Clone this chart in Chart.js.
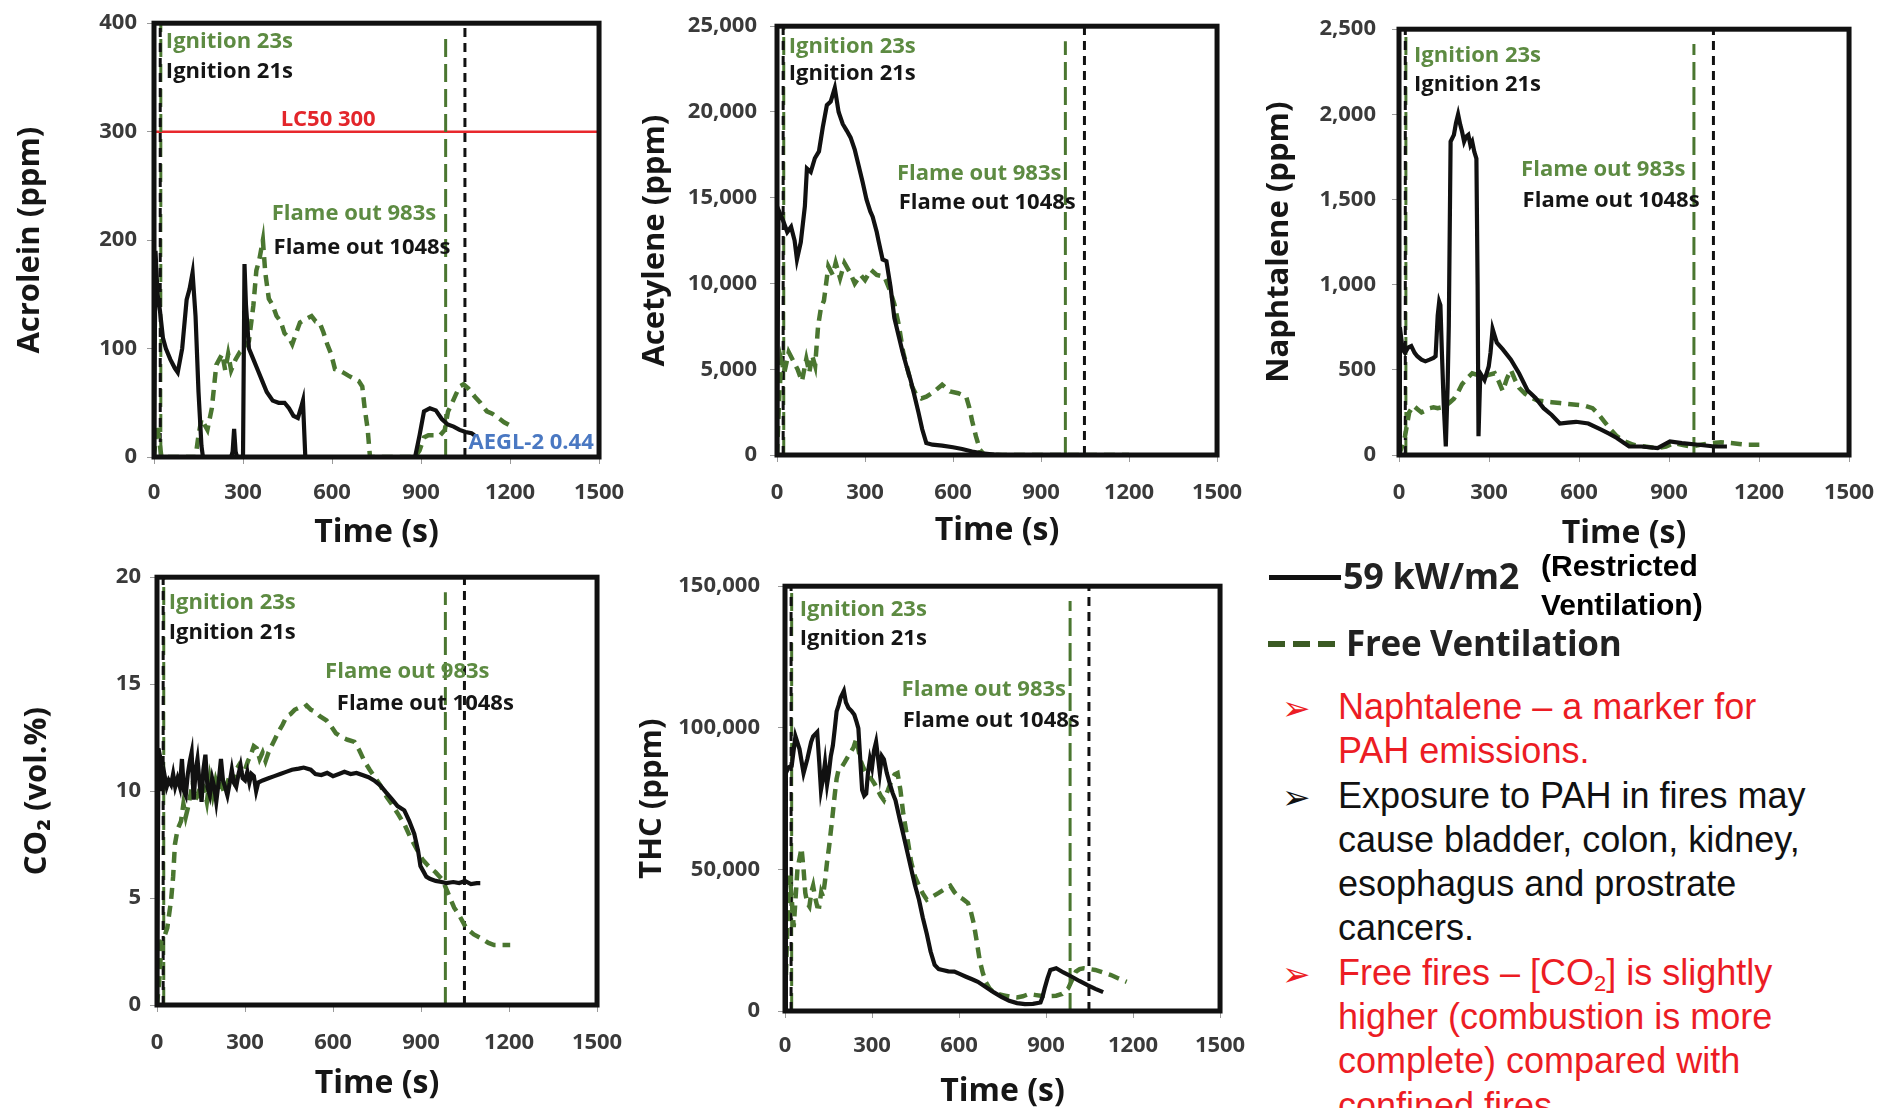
<!DOCTYPE html>
<html>
<head>
<meta charset="utf-8">
<script src="https://cdn.jsdelivr.net/npm/chart.js@4.4.1/dist/chart.umd.min.js"></script>
<style>
  html, body { margin: 0; padding: 0; background: #fff; }
  body { width: 1892px; height: 1108px; position: relative; overflow: hidden; }
  canvas { position: absolute; }
  .lg { position: absolute; white-space: nowrap; }
  #bullets { position: absolute; left: 1338px; top: 685px; font: 36px/44.3px 'Liberation Sans', Arial, sans-serif; white-space: nowrap; }
  #bullets div { position: relative; }
  #bullets .arr { position: absolute; left: -56px; top: 1px; font-size: 34px; }
  #bullets sub { font-size: 22px; line-height: 0; vertical-align: -6px; }
  .red { color: #ec1c24; }
  .blk { color: #111; }
</style>
</head>
<body>
<canvas id="acroleinChart"></canvas>
<canvas id="acetyleneChart"></canvas>
<canvas id="naphtaleneChart"></canvas>
<canvas id="co2Chart"></canvas>
<canvas id="thcChart"></canvas>

<!-- legend -->
<div style="position:absolute;left:1269px;top:575px;width:72px;height:5px;background:#111"></div>
<div class="lg" style="left:1343px;top:554px;font:bold 36px/44px 'Open Sans';color:#222;letter-spacing:-0.3px">59 kW/m2</div>
<div class="lg" style="left:1541px;top:546px;font:bold 30px/39px 'Liberation Sans';color:#000">(Restricted<br>Ventilation)</div>
<div style="position:absolute;left:1268px;top:641px;width:68px;height:6px;background:repeating-linear-gradient(90deg,#3b5a23 0 17px,transparent 17px 25px)"></div>
<div class="lg" style="left:1346px;top:621px;font:bold 35px/44px 'Open Sans';color:#222;letter-spacing:-0.3px">Free Ventilation</div>

<div id="bullets">
  <div class="red"><span class="arr">➢</span>Naphtalene – a marker for<br>PAH emissions.</div>
  <div class="blk"><span class="arr">➢</span>Exposure to PAH in fires may<br>cause bladder, colon, kidney,<br>esophagus and prostrate<br>cancers.</div>
  <div class="red"><span class="arr">➢</span>Free fires – [CO<sub>2</sub>] is slightly<br>higher (combustion is more<br>complete) compared with<br>confined fires.</div>
</div>

<script>
// event times (s)
var ignitionFree = 23, ignitionRestricted = 21;
var flameOutFree = 983, flameOutRestricted = 1048;
var lc50Acrolein = 300, aegl2Acrolein = 0.44;

var timeTicks = [0, 300, 600, 900, 1200, 1500];
var acroleinTicks = [0, 100, 200, 300, 400];
var acetyleneTicks = [0, 5000, 10000, 15000, 20000, 25000];
var naphtaleneTicks = [0, 500, 1000, 1500, 2000, 2500];
var co2Ticks = [0, 5, 10, 15, 20];
var thcTicks = [0, 50000, 100000, 150000];

// [time s, value]
var acroleinRestricted = [[0,0],[5,190],[12,150],[20,135],[30,110],[40,100],[55,90],[70,82],[80,78],[95,100],[110,145],[120,155],[130,170],[140,130],[150,60],[160,10],[165,0],
  [260,0],[265,5],[270,26],[275,5],[280,0],[300,0],[305,178],[310,140],[320,100],[335,90],[350,80],[365,70],[380,60],[400,52],[420,50],[440,50],[455,45],[470,38],[485,36],[495,45],[502,52],[510,0],
  [880,0],[895,20],[910,42],[930,45],[950,43],[970,35],[990,30],[1010,28],[1030,25],[1050,23],[1070,22],[1080,20]];
var acroleinFree = [[0,0],[10,30],[18,15],[25,0],[140,0],[150,20],[160,35],[170,30],[180,25],[195,45],[210,85],[220,90],[230,95],[240,80],[250,95],[260,80],[275,90],[290,97],[305,100],[320,107],[335,140],[345,172],[355,182],[367,200],[375,170],[387,146],[400,140],[413,130],[427,125],[440,114],[455,110],[466,104],[480,115],[492,124],[510,127],[531,130],[545,125],[558,124],[571,115],[584,104],[597,95],[610,81],[623,80],[637,78],[655,75],[676,72],[690,70],[702,65],[710,45],[720,26],[728,0],
  [880,0],[895,6],[910,18],[925,20],[945,20],[964,20],[980,25],[991,42],[1005,50],[1018,58],[1030,65],[1043,67],[1060,63],[1083,55],[1100,50],[1122,42],[1140,40],[1161,36],[1180,32],[1200,29]];

var acetyleneRestricted = [[0,0],[5,14300],[20,13700],[35,13000],[48,13300],[60,12500],[68,11400],[81,12400],[95,14500],[102,16700],[115,16500],[129,17300],[143,17700],[156,19100],[170,20400],[183,20600],[197,21400],[210,20000],[224,19300],[238,18900],[251,18500],[265,17800],[278,16900],[292,15900],[305,14900],[318,14200],[326,13900],[340,13000],[346,12500],[360,11400],[373,11300],[387,9800],[400,8000],[414,7000],[428,6000],[441,5200],[455,4400],[468,3500],[482,2500],[495,1500],[509,700],[530,600],[563,550],[600,450],[631,350],[665,200],[699,100],[740,30],[767,0],[900,0],[1100,0]];
var acetyleneFree = [[0,0],[8,3500],[15,5500],[25,4800],[40,6000],[55,5500],[70,5000],[85,4300],[100,5600],[110,4800],[120,5800],[130,5200],[140,7500],[150,8600],[160,9000],[175,11000],[190,10500],[200,11200],[215,10300],[230,11200],[250,10600],[265,10000],[285,10500],[300,10200],[320,10800],[340,10500],[366,10400],[385,9600],[400,8800],[415,7600],[430,6000],[448,4800],[460,4000],[475,3500],[492,3300],[509,3400],[536,3700],[563,4100],[590,3700],[618,3600],[645,3400],[655,2800],[665,2000],[678,1100],[692,300],[705,50],[720,0],[800,0],[1000,0],[1200,0]];

var naphtaleneRestricted = [[0,0],[3,750],[12,620],[20,600],[30,630],[41,640],[52,600],[61,580],[75,560],[88,550],[102,560],[115,570],[122,580],[129,820],[134,900],[138,880],[143,600],[149,300],[156,50],[162,400],[166,760],[172,1840],[183,1880],[190,1950],[197,2000],[204,1940],[210,1900],[217,1840],[224,1870],[231,1880],[238,1820],[244,1840],[251,1780],[258,1740],[262,1000],[265,110],[268,300],[271,480],[285,440],[299,520],[305,600],[312,740],[319,700],[326,660],[346,620],[373,560],[400,480],[428,380],[455,335],[482,275],[509,235],[536,185],[563,190],[590,195],[631,185],[672,150],[700,125],[726,100],[767,50],[808,50],[862,40],[903,80],[943,70],[998,60],[1052,50],[1093,50]];
var naphtaleneFree = [[0,0],[10,50],[20,110],[34,250],[48,290],[61,270],[75,250],[88,260],[102,275],[115,280],[129,275],[143,280],[156,290],[170,310],[183,330],[197,370],[210,415],[227,450],[244,480],[261,470],[278,460],[299,470],[319,480],[333,430],[346,375],[360,450],[373,500],[387,440],[400,395],[420,360],[441,335],[462,320],[482,315],[509,310],[536,305],[563,300],[590,295],[618,290],[645,275],[665,240],[685,195],[705,150],[726,110],[753,80],[781,60],[820,50],[862,40],[890,50],[916,70],[943,60],[971,50],[1005,60],[1039,70],[1073,75],[1107,70],[1134,65],[1161,60],[1201,60]];

var co2Restricted = [[0,0],[5,12],[12,11.5],[18,10],[25,10.8],[33,10.2],[40,10.5],[48,10.3],[55,10.8],[62,10.2],[70,10.6],[78,10.2],[85,11.5],[92,10],[98,9.8],[105,10.8],[112,11.4],[118,11.8],[125,9.6],[132,11],[138,11.5],[145,10.4],[152,9.5],[158,11],[165,11.7],[172,10.2],[180,9.8],[188,10.6],[195,10.2],[202,9.5],[210,10.4],[218,11.5],[225,10.5],[232,10.2],[240,9.8],[248,10.4],[255,11],[262,10.4],[270,10.2],[278,10.8],[285,11.2],[292,10.6],[300,10.5],[308,10.9],[315,10.4],[322,10.8],[330,10.7],[338,10],[345,10.4],[360,10.5],[380,10.6],[400,10.7],[420,10.8],[440,10.9],[460,11],[483,11.05],[500,11.1],[524,11],[540,10.8],[560,10.75],[580,10.85],[600,10.7],[620,10.8],[639,10.9],[660,10.8],[680,10.85],[700,10.75],[721,10.65],[740,10.5],[762,10.25],[780,9.95],[802,9.6],[820,9.3],[843,9.1],[860,8.6],[877,8],[890,7.2],[898,6.5],[910,6.2],[918,6],[930,5.9],[950,5.8],[970,5.75],[986,5.7],[1010,5.75],[1030,5.7],[1050,5.8],[1070,5.65],[1090,5.7],[1102,5.7]];
var co2Free = [[0,0],[10,1.5],[15,3],[25,3.2],[35,3.6],[48,4.9],[55,6],[61,7.5],[70,8.2],[82,8.6],[90,9.4],[98,8.8],[105,9.2],[115,9.9],[122,10.4],[130,9.6],[140,9.8],[150,10.4],[160,10.2],[170,9.5],[180,10.6],[190,9.8],[200,10.5],[210,10],[220,10.3],[230,9.9],[240,10.4],[250,10.8],[260,10.5],[270,11],[279,11.2],[290,10.8],[300,11],[310,11.4],[320,11.7],[330,12.1],[340,12],[350,11.5],[360,11.8],[370,11.4],[380,11.8],[390,12.1],[401,12.4],[415,12.8],[428,13.1],[442,13.5],[455,13.6],[469,13.8],[485,13.9],[500,13.9],[510,14],[525,13.8],[540,13.7],[555,13.5],[578,13.3],[595,13],[610,12.7],[632,12.5],[650,12.4],[673,12.3],[690,11.9],[707,11.4],[725,11],[745,10.6],[760,10.3],[782,9.75],[800,9.4],[823,8.9],[845,8.4],[865,7.8],[885,7.3],[905,6.8],[925,6.5],[950,6.2],[973,5.85],[990,5.3],[1013,4.55],[1030,4.2],[1054,3.6],[1080,3.3],[1108,3.1],[1130,2.9],[1149,2.8],[1175,2.8],[1204,2.8]];

var thcRestricted = [[0,0],[3,84000],[12,86000],[23,86500],[36,97000],[50,92500],[64,84000],[77,89000],[90,95000],[97,97000],[111,98500],[118,88000],[124,78000],[131,82000],[138,87700],[145,80000],[151,84000],[158,90000],[165,93700],[172,100000],[178,105800],[185,108000],[192,110700],[203,113000],[210,109000],[219,107000],[229,106000],[239,104600],[247,102000],[253,99800],[260,88000],[266,78000],[273,76000],[280,76800],[286,84000],[293,89000],[300,86000],[307,92000],[314,95000],[320,90000],[327,84000],[334,90000],[341,88900],[351,84000],[361,80400],[371,77000],[381,74400],[395,68000],[408,62300],[422,56000],[435,50200],[448,44500],[462,39300],[475,33000],[489,27200],[502,21000],[516,16300],[530,14800],[543,14500],[563,14000],[584,13900],[604,13000],[624,12100],[645,11200],[665,10300],[692,8500],[719,6650],[746,5000],[773,3600],[800,2800],[827,2400],[855,2500],[881,3000],[888,5000],[895,7900],[905,11500],[915,14500],[935,15100],[960,13600],[989,12100],[1015,10600],[1043,9100],[1070,7800],[1097,6650]];
var thcFree = [[0,0],[8,30000],[16,47800],[23,40000],[30,29600],[43,50200],[57,57500],[64,50000],[70,41700],[77,38000],[84,36900],[91,42000],[97,44200],[104,40000],[111,37000],[118,36900],[125,42000],[131,40500],[138,46000],[145,52600],[152,58000],[158,63500],[165,70000],[172,76800],[178,82000],[185,85300],[195,86000],[205,87700],[215,89500],[226,91300],[236,93000],[246,96200],[252,93000],[259,88900],[270,86000],[280,84000],[290,83000],[300,81600],[310,80000],[320,78000],[330,76000],[341,74400],[355,78000],[368,81600],[378,83500],[388,84000],[398,78000],[408,69500],[422,61000],[435,52600],[448,47500],[462,44200],[475,41500],[489,39300],[510,40500],[530,41700],[550,43000],[570,44200],[584,42000],[597,40500],[614,39500],[631,38100],[641,35000],[651,30800],[662,24000],[672,17500],[682,13500],[692,10300],[705,8000],[719,6650],[740,5800],[759,5400],[780,5000],[800,4800],[820,5200],[841,6000],[860,5700],[881,5400],[910,5300],[935,5400],[955,6000],[976,7900],[990,11000],[1003,13900],[1016,14800],[1030,15100],[1050,14800],[1070,14500],[1097,13600],[1124,12700],[1150,11500],[1178,10300]];

var GREEN = '#4a7630';
var GREEN_TEXT = '#5d8b42';
var FONT = "'Open Sans'";
var TICK_LEN = 7;
var TICK_SIZE = 22;

function xy(pairs) {
  return pairs.map(function (p) { return { x: p[0], y: p[1] }; });
}

function vline(t, top, color, dash) {
  return { data: [{ x: t, y: 0 }, { x: t, y: top }], borderColor: color, borderWidth: 3, borderDash: dash, order: 3 };
}

function hline(v, color, dash, width) {
  return { data: [{ x: 0, y: v }, { x: 1500, y: v }], borderColor: color, borderWidth: width, borderDash: dash, order: 4 };
}

// thick box round the plot area
var framePlugin = {
  id: 'frame',
  afterDatasetsDraw: function (chart) {
    var a = chart.chartArea, c = chart.ctx;
    c.save();
    c.strokeStyle = '#111';
    c.lineWidth = 5;
    c.strokeRect(a.left, a.top, a.right - a.left, a.bottom - a.top);
    c.restore();
  }
};

// text notes placed in data units
function notesPlugin(notes) {
  return {
    id: 'notes',
    afterDraw: function (chart) {
      var c = chart.ctx, sx = chart.scales.x, sy = chart.scales.y;
      c.save();
      c.font = 'bold 22px ' + FONT;
      c.textBaseline = 'middle';
      notes.forEach(function (n) {
        c.fillStyle = n.color;
        c.textAlign = n.align || 'left';
        c.fillText(n.text, sx.getPixelForValue(n.x), sy.getPixelForValue(n.y));
      });
      c.restore();
    }
  };
}

function eventNotes(ign, flame) {
  return [
    { text: 'Ignition 23s', x: ign[0], y: ign[1], color: GREEN_TEXT },
    { text: 'Ignition 21s', x: ign[0], y: ign[2], color: '#151515' },
    { text: 'Flame out 983s', x: flame[0], y: flame[1], color: GREEN_TEXT },
    { text: 'Flame out 1048s', x: flame[2], y: flame[3], color: '#151515' }
  ];
}

// g: canvas box and plot box in page pixels, text anchors
function buildChart(id, g, yTitle, yTicks, restricted, free, notes, extra) {
  var yMax = yTicks[yTicks.length - 1];
  var el = document.getElementById(id);
  el.width = g.w;
  el.height = g.h;
  el.style.left = g.left + 'px';
  el.style.top = g.top + 'px';

  var yW = g.pl - g.left;
  var xH = g.top + g.h - g.pb;
  var tickLH = TICK_SIZE * 1.2;

  var sets = [
    { data: xy(restricted), borderColor: '#111', borderWidth: 4.2, order: 1 },
    { data: xy(free), borderColor: GREEN, borderWidth: 4.5, borderDash: [11, 7], order: 2 },
    vline(ignitionRestricted, yMax, '#111', [9, 6]),
    vline(ignitionFree, yMax, GREEN, [18, 7]),
    vline(flameOutFree, yMax * 0.965, GREEN, [18, 7]),
    vline(flameOutRestricted, yMax, '#111', [9, 6])
  ].concat(extra || []);

  return new Chart(el, {
    type: 'line',
    data: { datasets: sets },
    options: {
      responsive: false,
      animation: false,
      events: [],
      layout: { padding: { top: g.pt - g.top, right: g.left + g.w - g.pr, bottom: 0, left: 0 } },
      elements: { point: { radius: 0 }, line: { tension: 0, fill: false } },
      plugins: { legend: { display: false }, tooltip: { enabled: false } },
      scales: {
        x: {
          type: 'linear', min: 0, max: 1500,
          afterBuildTicks: function (s) { s.ticks = timeTicks.map(function (v) { return { value: v }; }); },
          afterFit: function (s) { s.height = xH; },
          grid: { display: true, drawOnChartArea: false, drawTicks: true, tickLength: TICK_LEN, color: '#9a9a9a' },
          border: { display: false },
          ticks: {
            color: '#3a3a3a', font: { family: FONT, size: TICK_SIZE, weight: 'bold' },
            padding: g.xl - g.pb - TICK_LEN - tickLH / 2, maxRotation: 0, autoSkip: false,
            callback: function (v) { return String(v); }
          },
          title: {
            display: true, text: 'Time (s)', color: '#161616',
            font: { family: FONT, size: 32, weight: 'bold', lineHeight: 1 },
            padding: { top: 0, bottom: g.top + g.h - g.xt - 16 }
          }
        },
        y: {
          min: 0, max: yMax,
          afterBuildTicks: function (s) { s.ticks = yTicks.map(function (v) { return { value: v }; }); },
          afterFit: function (s) { s.width = yW; },
          grid: { display: true, drawOnChartArea: false, drawTicks: true, tickLength: TICK_LEN, color: '#9a9a9a' },
          border: { display: false },
          ticks: {
            color: '#3a3a3a', font: { family: FONT, size: TICK_SIZE, weight: 'bold' },
            padding: g.pl - g.yl - TICK_LEN,
            callback: function (v) { return v.toLocaleString('en-US'); }
          },
          title: {
            display: true, text: yTitle, color: '#161616',
            font: { family: FONT, size: 31, weight: 'bold', lineHeight: 1 },
            padding: { top: g.yt - g.left - 15.5, bottom: 0 }
          }
        }
      }
    },
    plugins: [framePlugin, notesPlugin(notes)]
  });
}

// Acrolein
buildChart('acroleinChart',
  { left: 0, top: 0, w: 640, h: 555, pl: 154, pt: 18, pr: 604, pb: 457, yt: 30, xt: 533, xl: 493, yl: 137 },
  'Acrolein (ppm)', acroleinTicks, acroleinRestricted, acroleinFree,
  eventNotes([40, 383, 355], [397, 224, 403, 193]).concat([
    { text: 'LC50 300', x: 587, y: 311, color: '#e3262b', align: 'center' },
    { text: 'AEGL-2 0.44', x: 1060, y: 13, color: '#4a78c2' }
  ]),
  [hline(lc50Acrolein, '#e8282d', [], 2.5), hline(aegl2Acrolein, '#4a78c2', [6, 4], 2)]);

// Acetylene
buildChart('acetyleneChart',
  { left: 632, top: 0, w: 628, h: 555, pl: 777, pt: 15, pr: 1228, pb: 455, yt: 655, xt: 531, xl: 493, yl: 757 },
  'Acetylene (ppm)', acetyleneTicks, acetyleneRestricted, acetyleneFree,
  eventNotes([40, 23800, 22200], [409, 16420, 415, 14700]));

// Naphtalene
buildChart('naphtaleneChart',
  { left: 1260, top: 0, w: 632, h: 555, pl: 1399, pt: 16, pr: 1852, pb: 455, yt: 1279, xt: 534, xl: 493, yl: 1376 },
  'Naphtalene (ppm)', naphtaleneTicks, naphtaleneRestricted, naphtaleneFree,
  eventNotes([50, 2346, 2175], [407, 1675, 412, 1492]));

// CO2
buildChart('co2Chart',
  { left: 0, top: 555, w: 640, h: 553, pl: 157, pt: 568, pr: 607, pb: 1005, yt: 37, xt: 1084, xl: 1043, yl: 141 },
  'CO\u2082 (vol.%)', co2Ticks, co2Restricted, co2Free,
  eventNotes([40, 18.8, 17.4], [573, 15.6, 613, 14.1]));

// THC
buildChart('thcChart',
  { left: 630, top: 555, w: 630, h: 553, pl: 785, pt: 570, pr: 1224, pb: 1011, yt: 652, xt: 1092, xl: 1046, yl: 760 },
  'THC (ppm)', thcTicks, thcRestricted, thcFree,
  eventNotes([51, 141800, 131300], [402, 113300, 406, 102400]));
</script>
</body>
</html>
